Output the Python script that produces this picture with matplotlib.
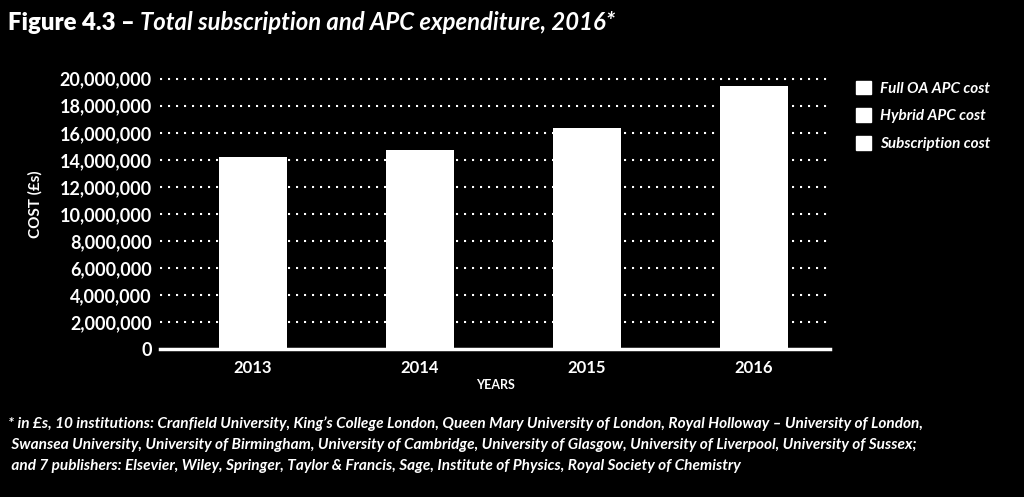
import matplotlib
matplotlib.use('Agg')
import matplotlib.pyplot as plt
import numpy as np
from matplotlib import patches
from matplotlib.ticker import FuncFormatter

YEARS = ['2013', '2014', '2015', '2016']
# components estimated; only stacked totals are visible in the reference
SUBSCRIPTION = [13.30e6, 13.50e6, 14.40e6, 16.60e6]
HYBRID_APC = [0.60e6, 0.80e6, 1.40e6, 2.10e6]
FULL_OA_APC = [0.28e6, 0.40e6, 0.53e6, 0.78e6]
SERIES_LABELS = ['Full OA APC cost', 'Hybrid APC cost', 'Subscription cost']
YTICKS = list(range(0, 20000001, 2000000))

TITLE_BOLD = 'Figure 4.3 \u2013 '
TITLE_ITALIC = 'Total subscription and APC expenditure, 2016*'
FOOTNOTE = [
    '* in \u00a3s, 10 institutions: Cranfield University, King\u2019s College London, '
    'Queen Mary University of London, Royal Holloway \u2013 University of London,',
    ' Swansea University, University of Birmingham, University of Cambridge, '
    'University of Glasgow, University of Liverpool, University of Sussex;',
    ' and 7 publishers: Elsevier, Wiley, Springer, Taylor & Francis, Sage, '
    'Institute of Physics, Royal Society of Chemistry',
]

FONT = 'Lato'
WHITE = 'white'

plt.rcParams['font.family'] = [FONT, 'DejaVu Sans']

fig = plt.figure(figsize=(10.24, 4.97), dpi=100, facecolor='black')
ax = fig.add_axes([160 / 1024, 1 - 349 / 497, 670 / 1024, 273 / 497])
ax.set_facecolor('black')

x = np.arange(len(YEARS))
width = 0.41
bottom = np.zeros(len(YEARS))
for vals in [SUBSCRIPTION, HYBRID_APC, FULL_OA_APC]:
    ax.bar(x, vals, width, bottom=bottom, color=WHITE, edgecolor=WHITE,
           linewidth=0, zorder=3)
    bottom += np.array(vals)

ax.set_xlim(-0.557, 3.455)
ax.set_ylim(0, 20.2e6)
ax.set_yticks(YTICKS)
ax.yaxis.set_major_formatter(FuncFormatter(lambda v, p: f'{int(v):,}'))
ax.set_xticks(x)
ax.set_xticklabels(YEARS)
ax.tick_params(axis='y', length=0, pad=6, labelsize=13, colors=WHITE)
ax.tick_params(axis='x', length=0, pad=8, labelsize=12, colors=WHITE)
for lab in ax.get_yticklabels() + ax.get_xticklabels():
    lab.set_fontweight('bold')

for t in YTICKS[1:]:
    ax.axhline(t, color=WHITE, linewidth=1.5, linestyle=(0, (1, 2.84)),
               zorder=1)
for s in ['top', 'right', 'left']:
    ax.spines[s].set_visible(False)
ax.spines['bottom'].set_color(WHITE)
ax.spines['bottom'].set_linewidth(2.5)
ax.spines['bottom'].set_zorder(4)

ax.set_ylabel('COST (\u00a3s)', color=WHITE, fontsize=11, fontweight='bold')
ax.yaxis.set_label_coords(-0.175, 0.531)
ax.set_xlabel('YEARS', color=WHITE, fontsize=9, fontweight='bold', labelpad=2)

handles = [patches.Patch(facecolor=WHITE, edgecolor=WHITE, label=l)
           for l in SERIES_LABELS]
leg = fig.legend(handles=handles, loc='upper left',
                 bbox_to_anchor=(842 / 1024, 1 - 67 / 497), frameon=False,
                 handlelength=1.0, handleheight=1.0, handletextpad=0.6,
                 labelspacing=0.82,
                 prop={'family': FONT, 'weight': 'bold', 'style': 'italic',
                       'size': 11})
for t in leg.get_texts():
    t.set_color(WHITE)

t1 = fig.text(8 / 1024, 1 - 23 / 497, TITLE_BOLD, color=WHITE, fontsize=17.2,
              fontweight='heavy', va='center', ha='left')
fig.canvas.draw()
bb = t1.get_window_extent()
fig.text(bb.x1 / 1024, 1 - 23 / 497, TITLE_ITALIC, color=WHITE, fontsize=17.2,
         fontweight='bold', style='italic', va='center', ha='left')

for i, line in enumerate(FOOTNOTE):
    fig.text(8 / 1024, 1 - (424 + i * 21) / 497, line, color=WHITE,
             fontsize=11.1, fontweight='bold', style='italic', va='center',
             ha='left')

fig.savefig('out.png', dpi=100, facecolor='black')
